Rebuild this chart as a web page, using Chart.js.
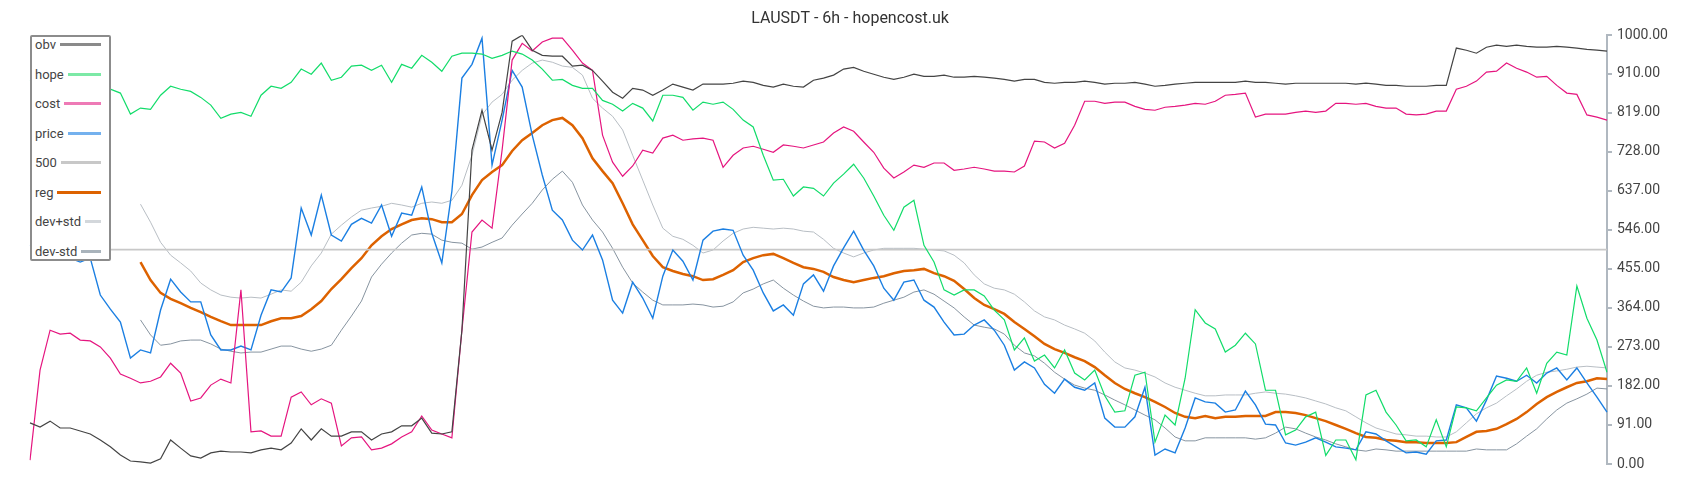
<!DOCTYPE html>
<html lang="en">
<head>
    <meta charset="UTF-8">
    <title>LAUSDT - 6h - hopencost.uk</title>
    <style>
        body {
            margin: 0;
            background: #fff;
            font-family: Roboto, Arial, sans-serif;
        }

        .wrap {
            position: relative;
            width: 1700px;
            height: 500px;
        }

        /* legend box sits over the top-left of the plot */
        .legend {
            position: absolute;
            left: 30px;
            top: 35px;
            width: 81px;
            box-sizing: border-box;
            border: 2px solid #8c8c8c;
            border-radius: 2px;
            background: #fff;
            padding: 0 8px 0 3px;
        }

        .legend-row {
            display: flex;
            align-items: center;
            height: 15px;
            margin-bottom: 14.5px;
            font-size: 13px;
            color: #444;
        }

        .legend-row:last-child {
            margin-bottom: 0;
        }

        .legend-line {
            flex: 1;
            height: 3px;
            margin-left: 4px;
        }
    </style>
    <script src="https://cdn.jsdelivr.net/npm/chart.js"></script>
</head>
<body>
<div class="wrap">
    <canvas id="chart" width="1700" height="500"></canvas>
    <div class="legend" id="legend"></div>
</div>

<script>
    const obv = [
        96, 86, 100, 84, 84, 77, 70, 56, 40, 21,
        7, 5, 2, 12, 56, 37, 19, 14, 26, 30,
        28, 28, 26, 33, 37, 33, 49, 82, 56, 82,
        65, 65, 75, 75, 56, 70, 75, 89, 89, 107,
        72, 70, 75, 312, 732, 825, 732, 820, 986, 1000,
        965, 953, 951, 951, 928, 930, 918, 893, 867, 853,
        876, 872, 860, 872, 886, 879, 872, 886, 886, 886,
        888, 893, 890, 883, 879, 886, 881, 879, 895, 900,
        907, 921, 925, 916, 909, 902, 897, 902, 909, 904,
        904, 907, 902, 902, 904, 902, 900, 897, 893, 897,
        897, 890, 888, 890, 890, 893, 890, 886, 888, 888,
        890, 886, 881, 883, 886, 888, 890, 890, 890, 890,
        890, 893, 890, 890, 888, 886, 888, 888, 888, 888,
        888, 888, 886, 888, 886, 883, 883, 881, 881, 881,
        883, 883, 970, 965, 958, 972, 977, 974, 977, 974,
        972, 972, 974, 972, 970, 967, 965, 963
    ];

    const hope = [
        895, 886, 900, 881, 890, 876, 883, 872, 874, 865,
        816, 830, 827, 860, 881, 874, 869, 855, 837, 806,
        816, 820, 811, 860, 881, 876, 890, 921, 909, 935,
        895, 902, 928, 930, 918, 930, 890, 932, 923, 953,
        937, 916, 951, 958, 958, 956, 946, 953, 963, 956,
        942, 921, 895, 897, 883, 876, 876, 848, 839, 823,
        841, 830, 800, 860, 860, 855, 825, 844, 839, 844,
        827, 802, 786, 720, 662, 664, 625, 646, 643, 625,
        655, 676, 699, 667, 625, 580, 545, 599, 615, 510,
        471, 406, 394, 406, 406, 392, 359, 336, 266, 294,
        240, 254, 224, 266, 212, 196, 219, 159, 121, 124,
        207, 214, 51, 114, 91, 200, 360, 329, 315, 261,
        277, 305, 280, 172, 172, 68, 79, 110, 121, 20,
        56, 56, 10, 161, 172, 121, 91, 54, 56, 40,
        103, 40, 133, 131, 124, 154, 184, 196, 193, 224,
        165, 235, 261, 254, 415, 340, 289, 214
    ];

    const cost = [
        9, 219, 312, 303, 305, 289, 287, 273, 247, 210,
        200, 189, 193, 203, 235, 212, 147, 154, 184, 198,
        189, 406, 75, 77, 65, 65, 156, 168, 138, 152,
        142, 42, 61, 63, 33, 37, 47, 63, 75, 112,
        79, 70, 61, 312, 541, 569, 550, 732, 942, 981,
        963, 984, 993, 993, 965, 935, 918, 767, 704, 671,
        695, 732, 725, 760, 767, 755, 758, 760, 755, 692,
        720, 737, 741, 734, 727, 744, 741, 737, 744, 751,
        772, 786, 776, 751, 727, 690, 667, 681, 697, 692,
        702, 702, 685, 688, 692, 688, 683, 683, 681, 695,
        753, 751, 737, 748, 790, 846, 846, 841, 844, 844,
        834, 827, 825, 832, 834, 837, 841, 839, 846, 860,
        862, 865, 809, 816, 816, 816, 820, 823, 820, 823,
        841, 841, 839, 841, 834, 830, 830, 816, 814, 816,
        823, 823, 874, 881, 893, 914, 916, 935, 923, 914,
        902, 904, 883, 865, 862, 814, 809, 802
    ];

    const price = [
        510, 499, 487, 499, 480, 471, 480, 394, 361, 331,
        247, 266, 259, 359, 431, 401, 378, 378, 301, 266,
        266, 275, 266, 347, 406, 401, 434, 597, 534, 627,
        534, 520, 559, 573, 562, 604, 531, 585, 580, 646,
        538, 469, 636, 900, 932, 993, 697, 802, 918, 879,
        767, 674, 592, 569, 522, 499, 534, 476, 382, 352,
        424, 387, 340, 438, 499, 473, 429, 522, 543, 548,
        545, 487, 452, 399, 357, 371, 347, 420, 441, 403,
        462, 504, 543, 499, 462, 410, 382, 424, 429, 382,
        366, 331, 301, 303, 324, 336, 312, 277, 219, 238,
        224, 186, 165, 198, 179, 172, 189, 107, 86, 86,
        110, 179, 21, 35, 26, 84, 154, 145, 142, 121,
        126, 170, 138, 93, 91, 49, 44, 51, 61, 51,
        40, 37, 33, 75, 70, 54, 40, 26, 28, 23,
        54, 56, 138, 131, 100, 149, 205, 200, 193, 207,
        189, 212, 224, 196, 224, 189, 156, 121
    ];

    const reg = [
        null, null, null, null, null, null, null, null, null, null,
        null, 471, 429, 399, 385, 375, 364, 354, 343, 333,
        324, 324, 324, 324, 333, 340, 340, 345, 361, 380,
        408, 431, 457, 480, 510, 531, 548, 559, 569, 573,
        571, 564, 564, 583, 627, 662, 681, 697, 730, 755,
        772, 790, 802, 807, 790, 760, 713, 683, 655, 608,
        559, 522, 485, 459, 450, 443, 438, 429, 431, 441,
        452, 471, 480, 487, 490, 480, 469, 459, 455, 448,
        436, 429, 424, 429, 434, 438, 445, 450, 452, 455,
        445, 438, 427, 408, 387, 371, 361, 350, 331, 315,
        298, 280, 268, 259, 249, 240, 226, 207, 189, 175,
        165, 156, 145, 133, 119, 110, 107, 112, 107, 110,
        110, 112, 112, 112, 121, 121, 119, 114, 107, 100,
        91, 82, 72, 63, 61, 56, 54, 51, 51, 49,
        49, 49, 51, 63, 75, 77, 82, 93, 105, 121,
        140, 156, 168, 179, 189, 193, 200, 198
    ];

    const devPlus = [
        null, null, null, null, null, null, null, null, null, null,
        null, 606, 564, 517, 487, 469, 450, 422, 406, 394,
        389, 387, 389, 387, 396, 406, 403, 424, 462, 492,
        536, 557, 576, 592, 597, 601, 608, 604, 599, 608,
        611, 608, 615, 650, 720, 814, 844, 862, 895, 918,
        935, 942, 937, 928, 925, 907, 853, 830, 811, 779,
        720, 662, 604, 550, 531, 524, 510, 492, 499, 520,
        538, 548, 552, 550, 548, 550, 548, 543, 541, 524,
        503, 492, 483, 492, 499, 503, 503, 503, 503, 501,
        499, 497, 487, 469, 441, 420, 410, 406, 396, 378,
        357, 343, 336, 324, 315, 305, 287, 261, 238, 224,
        219, 212, 203, 189, 179, 172, 165, 159, 159, 161,
        161, 161, 165, 168, 165, 163, 159, 154, 147, 140,
        131, 124, 110, 96, 84, 77, 70, 68, 65, 65,
        63, 63, 75, 96, 117, 131, 142, 159, 175, 193,
        207, 214, 217, 221, 226, 228, 226, 224
    ];

    const devMinus = [
        null, null, null, null, null, null, null, null, null, null,
        null, 336, 301, 277, 280, 287, 289, 289, 280, 268,
        263, 259, 261, 261, 268, 275, 275, 268, 263, 268,
        277, 312, 345, 380, 436, 466, 492, 515, 534, 538,
        536, 522, 517, 515, 501, 506, 517, 527, 557, 583,
        608, 639, 664, 683, 657, 604, 569, 541, 503, 459,
        422, 401, 382, 371, 371, 371, 373, 371, 366, 368,
        378, 399, 408, 420, 429, 410, 394, 380, 368, 364,
        366, 366, 364, 364, 366, 375, 382, 389, 401, 406,
        396, 380, 364, 343, 324, 319, 315, 303, 277, 259,
        252, 235, 214, 198, 184, 177, 172, 161, 149, 138,
        126, 114, 103, 84, 63, 54, 54, 61, 61, 61,
        61, 61, 58, 61, 72, 86, 82, 72, 63, 56,
        47, 40, 33, 30, 35, 33, 30, 30, 30, 30,
        30, 30, 30, 30, 35, 33, 33, 33, 47, 65,
        82, 105, 126, 142, 152, 163, 177, 175
    ];

    // the "500" series is a flat level line
    const level = obv.map(() => 500);
    const labels = obv.map((_, i) => i);
    const yTicks = [0, 91, 182, 273, 364, 455, 546, 637, 728, 819, 910, 1000];

    function line(label, data, color, legendColor, width) {
        return {
            label: label,
            data: data,
            borderColor: color,
            legendColor: legendColor,
            borderWidth: width,
            pointRadius: 0,
            tension: 0,
            fill: false,
            spanGaps: false,
            yAxisID: 'y'
        };
    }

    const datasets = [
        line('obv', obv, '#444444', '#8a8a8a', 1.2),
        line('hope', hope, '#12dc6a', '#7ce9a6', 1.2),
        line('cost', cost, '#e5157f', '#ee7ab6', 1.2),
        line('price', price, '#1b7fe2', '#74b1ee', 1.4),
        line('500', level, '#c8c8c8', '#c8c8c8', 1.6),
        line('reg', reg, '#dd6200', '#dd6200', 2.5),
        line('dev+std', devPlus, '#b8bec4', '#d3d7db', 1),
        line('dev-std', devMinus, '#8794a0', '#a9b3bb', 1)
    ];

    new Chart(document.getElementById('chart'), {
        type: 'line',
        data: { labels: labels, datasets: datasets },
        options: {
            responsive: false,
            animation: false,
            layout: { padding: { left: 0, right: 0, top: 0, bottom: 36 } },
            plugins: {
                legend: { display: false },
                tooltip: { enabled: false },
                title: {
                    display: true,
                    text: 'LAUSDT - 6h - hopencost.uk',
                    color: '#333',
                    font: { family: 'Roboto', size: 16, weight: 'normal' },
                    padding: { top: 9, bottom: 7 }
                }
            },
            scales: {
                x: { display: false },
                // empty left gutter so the title stays centred on the canvas
                gutter: {
                    type: 'linear',
                    position: 'left',
                    display: true,
                    grid: { display: false, drawTicks: false },
                    border: { display: false },
                    ticks: { display: false },
                    afterFit: scale => {
                        scale.width = 30;
                    }
                },
                y: {
                    position: 'right',
                    min: 0,
                    max: 1000,
                    afterBuildTicks: scale => {
                        scale.ticks = yTicks.map(v => ({ value: v }));
                    },
                    afterFit: scale => {
                        scale.width = 93;
                    },
                    grid: { drawOnChartArea: false, tickLength: 5, color: '#b0b8c0', lineWidth: 2 },
                    border: { color: '#b0b8c0', width: 2 },
                    ticks: {
                        padding: 5,
                        color: '#444',
                        font: { family: 'Roboto', size: 14 },
                        callback: v => Number(v).toFixed(2)
                    }
                }
            }
        }
    });

    // html legend built from the datasets
    const legend = document.getElementById('legend');
    datasets.forEach(ds => {
        const row = document.createElement('div');
        row.className = 'legend-row';
        const text = document.createElement('span');
        text.textContent = ds.label;
        const sample = document.createElement('span');
        sample.className = 'legend-line';
        sample.style.background = ds.legendColor;
        row.appendChild(text);
        row.appendChild(sample);
        legend.appendChild(row);
    });
</script>
</body>
</html>
